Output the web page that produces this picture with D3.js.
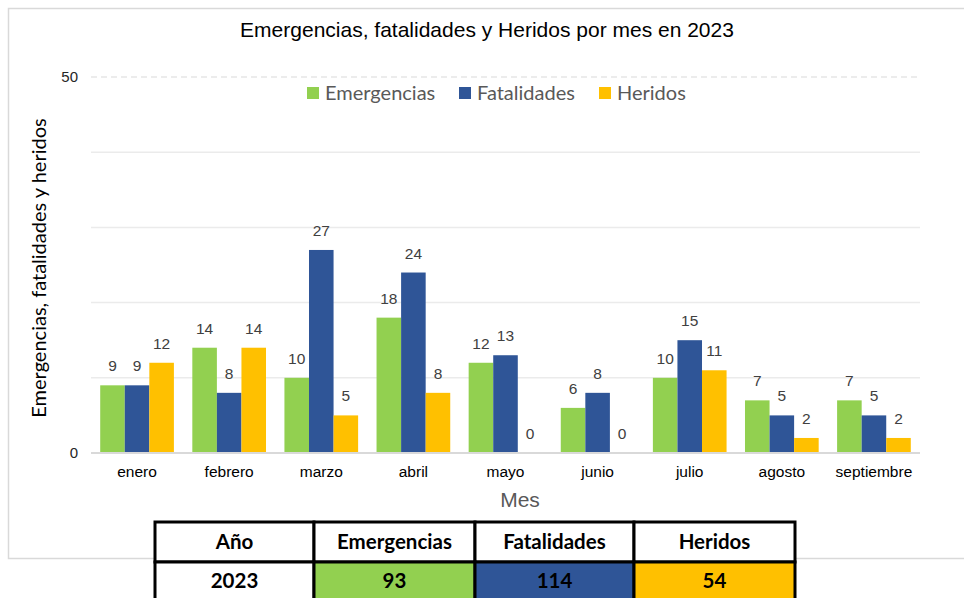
<!DOCTYPE html>
<html>
<head>
<meta charset="utf-8">
<script src="https://cdn.jsdelivr.net/npm/d3@7"></script>
<style>
  body { margin: 0; background: #fff; }
  svg { display: block; }
</style>
</head>
<body>
<div id="chart"></div>
<script>
// data
var months = ['enero', 'febrero', 'marzo', 'abril', 'mayo', 'junio', 'julio', 'agosto', 'septiembre'];
var emergencias = [9, 14, 10, 18, 12, 6, 10, 7, 7];
var fatalidades = [9, 8, 27, 24, 13, 8, 15, 5, 5];
var heridos = [12, 14, 5, 8, 0, 0, 11, 2, 2];
var seriesNames = ['Emergencias', 'Fatalidades', 'Heridos'];
var seriesColors = ['#92d050', '#2f5597', '#ffc000'];
var yTickLabels = [0, 50];
var gridValues = [10, 20, 30, 40];
var tableYear = '2023';

var W = 964, H = 598;
var calibri = 'Lato, "Open Sans", sans-serif';
var arial = '"Liberation Sans", Arial, sans-serif';

var svg = d3.select('#chart').append('svg').attr('width', W).attr('height', H);

// chart frame
svg.append('rect').attr('x', 8.5).attr('y', 8.5).attr('width', 970).attr('height', 550)
  .attr('fill', '#fff').attr('stroke', '#d9d9d9').attr('stroke-width', 1.5);

var x0 = d3.scaleBand().domain(months).range([91, 920]).paddingInner(0.2).paddingOuter(0.1);
var x1 = d3.scaleBand().domain(seriesNames).range([0, x0.bandwidth()]);
var y = d3.scaleLinear().domain([0, 50]).range([453, 77]);
var color = d3.scaleOrdinal().domain(seriesNames).range(seriesColors);

// grid
svg.append('g').selectAll('line').data(gridValues).enter().append('line')
  .attr('x1', 91).attr('x2', 920)
  .attr('y1', function(d) { return y(d); }).attr('y2', function(d) { return y(d); })
  .attr('stroke', '#ebebeb').attr('stroke-width', 1.5);
svg.append('line').attr('x1', 91).attr('x2', 920).attr('y1', y(50)).attr('y2', y(50))
  .attr('stroke', '#d9d9d9').attr('stroke-width', 1.2).attr('stroke-dasharray', '6,4');

// y tick labels
svg.append('g').selectAll('text').data(yTickLabels).enter().append('text')
  .attr('x', 78).attr('y', function(d) { return y(d); }).attr('dy', '0.35em')
  .attr('text-anchor', 'end').attr('font-family', arial).attr('font-size', 15)
  .attr('fill', '#262626').text(function(d) { return d; });

// bars
var rows = months.map(function(m, i) {
  return { month: m, values: [emergencias[i], fatalidades[i], heridos[i]] };
});
var groups = svg.append('g').selectAll('g').data(rows).enter().append('g')
  .attr('transform', function(d) { return 'translate(' + x0(d.month) + ',0)'; });
var cells = groups.selectAll('g').data(function(d) {
  return d.values.map(function(v, j) { return { name: seriesNames[j], value: v }; });
}).enter().append('g');
cells.append('rect')
  .attr('x', function(d) { return x1(d.name); })
  .attr('y', function(d) { return y(d.value); })
  .attr('width', x1.bandwidth())
  .attr('height', function(d) { return y(0) - y(d.value); })
  .attr('fill', function(d) { return color(d.name); });
cells.append('text')
  .attr('x', function(d) { return x1(d.name) + x1.bandwidth() / 2; })
  .attr('y', function(d) { return y(d.value) - 14; })
  .attr('text-anchor', 'middle').attr('font-family', arial).attr('font-size', 15.5)
  .attr('fill', '#404040').text(function(d) { return d.value; });

// baseline
svg.append('line').attr('x1', 91).attr('x2', 920).attr('y1', y(0)).attr('y2', y(0))
  .attr('stroke', '#d9d9d9').attr('stroke-width', 2);

// x axis labels
svg.append('g').selectAll('text').data(months).enter().append('text')
  .attr('x', function(d) { return x0(d) + x0.bandwidth() / 2; }).attr('y', 477)
  .attr('text-anchor', 'middle').attr('font-family', arial).attr('font-size', 15.5)
  .attr('fill', '#000').text(function(d) { return d; });

// titles
svg.append('text').attr('x', 487).attr('y', 37).attr('text-anchor', 'middle')
  .attr('font-family', arial).attr('font-size', 21).attr('fill', '#000')
  .text('Emergencias, fatalidades y Heridos por mes en 2023');
svg.append('text').attr('x', 520).attr('y', 507).attr('text-anchor', 'middle')
  .attr('font-family', arial).attr('font-size', 21).attr('fill', '#595959').text('Mes');
svg.append('text').attr('transform', 'translate(46,268) rotate(-90)').attr('text-anchor', 'middle')
  .attr('font-family', calibri).attr('font-size', 20).attr('fill', '#000')
  .text('Emergencias, fatalidades y heridos');

// legend
var legendX = [307, 459, 599];
var leg = svg.append('g').selectAll('g').data(seriesNames).enter().append('g')
  .attr('transform', function(d, i) { return 'translate(' + legendX[i] + ',87)'; });
leg.append('rect').attr('width', 12).attr('height', 12).attr('fill', function(d) { return color(d); });
leg.append('text').attr('x', 18).attr('y', 6).attr('dy', '0.35em')
  .attr('font-family', calibri).attr('font-size', 20).attr('fill', '#595959')
  .text(function(d) { return d; });

// totals table
var totals = [emergencias, fatalidades, heridos].map(function(a) { return d3.sum(a); });
var colEdges = [155, 314, 475, 634, 795];
var rowEdges = [522, 562, 602];
var header = ['Año'].concat(seriesNames);
var body = [tableYear].concat(totals);
var fills = ['#fff'].concat(seriesColors);
var table = svg.append('g');
[header, body].forEach(function(row, r) {
  row.forEach(function(txt, c) {
    table.append('rect').attr('x', colEdges[c]).attr('y', rowEdges[r])
      .attr('width', colEdges[c + 1] - colEdges[c]).attr('height', rowEdges[r + 1] - rowEdges[r])
      .attr('fill', r === 0 ? '#fff' : fills[c]).attr('stroke', '#000').attr('stroke-width', 3);
    table.append('text').attr('x', (colEdges[c] + colEdges[c + 1]) / 2)
      .attr('y', (rowEdges[r] + rowEdges[r + 1]) / 2 + (r === 1 ? -1 : 0)).attr('dy', '0.35em')
      .attr('text-anchor', 'middle').attr('font-family', calibri).attr('font-weight', 'bold')
      .attr('font-size', 20.5).attr('fill', '#000').text(txt);
  });
});
</script>
</body>
</html>
